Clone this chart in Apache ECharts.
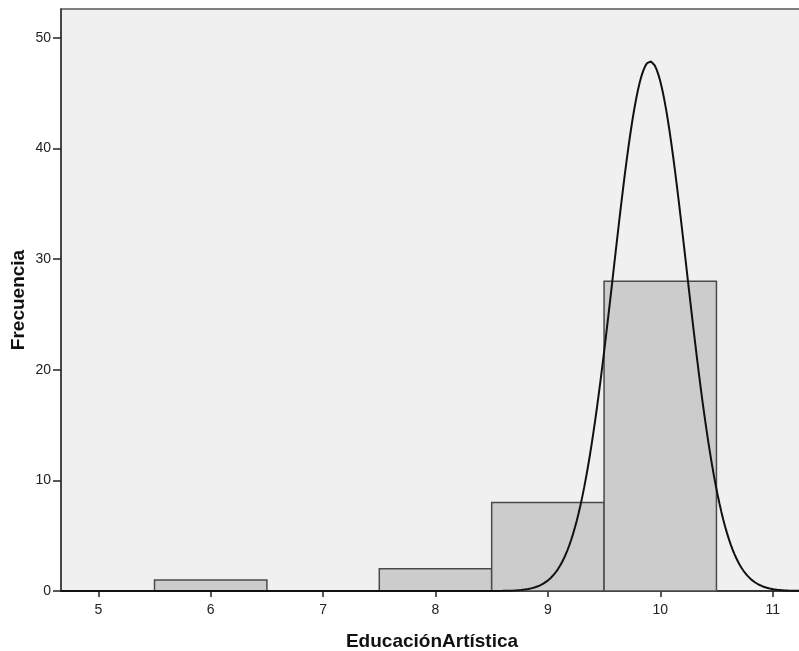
<!DOCTYPE html>
<html>
<head>
<meta charset="utf-8">
<script src="https://cdn.jsdelivr.net/npm/echarts@6/dist/echarts.min.js"></script>
<style>
  html, body { margin: 0; padding: 0; background: #ffffff; }
  #chart { width: 799px; height: 651px; }
</style>
</head>
<body>
<div id="chart"></div>
<script>
// Histogram bins (centre of each bin, width 1) and their frequencies
const binCenters = [6, 7, 8, 9, 10];
const binCounts = [1, 0, 2, 8, 28];
const binWidth = 1;

// Fitted normal curve parameters
const sampleSize = 39;
const curveMean = 9.91;
const curveStdDev = 0.325;

// Axis ticks
const xTicks = [5, 6, 7, 8, 9, 10, 11];
const yTicks = [0, 10, 20, 30, 40, 50];
const xRange = [4.668, 11.27];
const yMax = 52.6;

const font = '"Liberation Sans", Arial, sans-serif';

const barData = binCenters.map((c, i) => [c - binWidth / 2, c + binWidth / 2, binCounts[i]]);

// Normal density scaled to frequency counts
const curveData = [];
const steps = 400;
for (let i = 0; i <= steps; i++) {
  const x = xRange[0] + (xRange[1] - xRange[0]) * i / steps;
  const z = (x - curveMean) / curveStdDev;
  const y = sampleSize * binWidth * Math.exp(-0.5 * z * z) / (curveStdDev * Math.sqrt(2 * Math.PI));
  curveData.push([x, y]);
}

const chart = echarts.init(document.getElementById('chart'), null, { renderer: 'canvas' });
chart.setOption({
  animation: false,
  grid: {
    left: 61, top: 9, right: -4, bottom: 60,
    outerBoundsMode: 'none',
    containLabel: false,
    show: true,
    backgroundColor: '#f0f0f0',
    borderColor: '#5a5a5a',
    borderWidth: 1.5
  },
  xAxis: {
    type: 'value',
    min: xRange[0],
    max: xRange[1],
    name: 'EducaciónArtística',
    nameLocation: 'middle',
    nameGap: 41,
    nameMoveOverlap: false,
    nameTextStyle: { fontFamily: font, fontSize: 19, fontWeight: 'bold', color: '#111' },
    splitLine: { show: false },
    axisLine: { show: true, onZero: false, lineStyle: { color: '#222', width: 1.5 } },
    axisTick: { show: true, inside: false, customValues: xTicks, length: 6, lineStyle: { color: '#222', width: 1.5 } },
    axisLabel: { customValues: xTicks, fontFamily: font, fontSize: 14, color: '#222', margin: 12 }
  },
  yAxis: {
    type: 'value',
    min: 0,
    max: yMax,
    name: 'Frecuencia',
    nameLocation: 'middle',
    nameGap: 33,
    nameMoveOverlap: false,
    nameTextStyle: { fontFamily: font, fontSize: 19, fontWeight: 'bold', color: '#111' },
    splitLine: { show: false },
    axisLine: { show: true, lineStyle: { color: '#333', width: 1.5 } },
    axisTick: { show: true, inside: false, customValues: yTicks, length: 8, lineStyle: { color: '#222', width: 1.5 } },
    axisLabel: { customValues: yTicks, fontFamily: font, fontSize: 14, color: '#222', margin: 10 }
  },
  series: [
    {
      type: 'custom',
      data: barData,
      encode: { x: [0, 1], y: 2 },
      z: 2,
      renderItem: function (params, api) {
        const count = api.value(2);
        if (!count) return null;
        const p1 = api.coord([api.value(0), count]);
        const p2 = api.coord([api.value(1), 0]);
        return {
          type: 'rect',
          shape: { x: p1[0], y: p1[1], width: p2[0] - p1[0], height: p2[1] - p1[1] },
          style: { fill: '#cccccc', stroke: '#4a4a4a', lineWidth: 1.5 }
        };
      }
    },
    {
      type: 'line',
      data: curveData,
      showSymbol: false,
      smooth: false,
      z: 3,
      clip: true,
      lineStyle: { color: '#111111', width: 2 }
    }
  ]
});
</script>
</body>
</html>
